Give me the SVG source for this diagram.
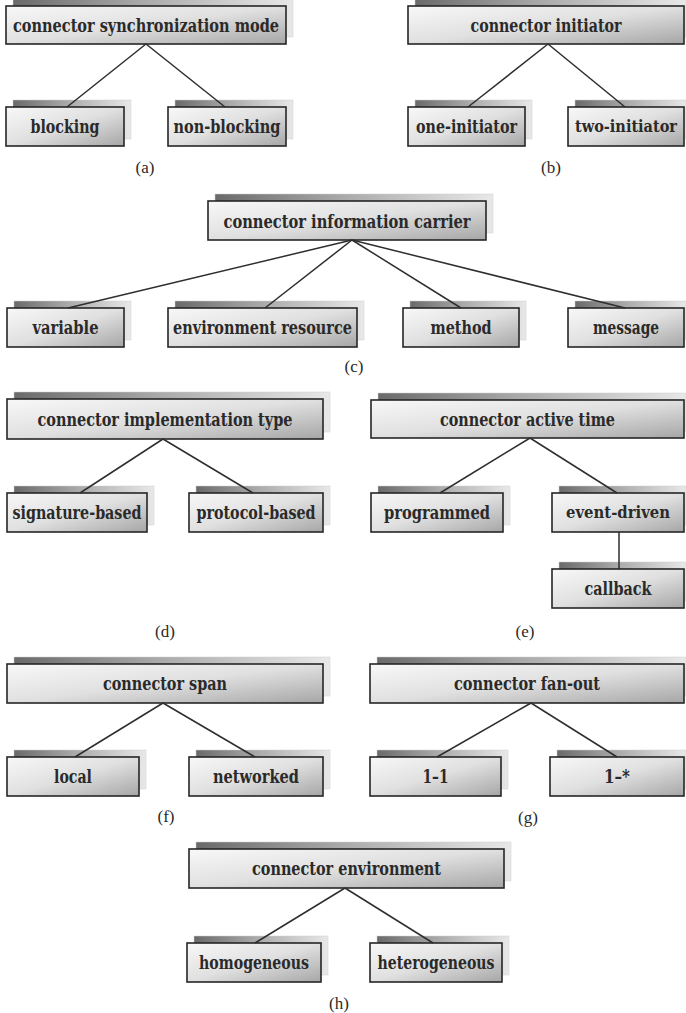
<svg xmlns="http://www.w3.org/2000/svg" width="686" height="1013" viewBox="0 0 686 1013">
<defs>
<linearGradient id="gb" x1="0" y1="0" x2="1" y2="1">
<stop offset="0" stop-color="#f8f8f8"/>
<stop offset="0.5" stop-color="#e0e0e0"/>
<stop offset="1" stop-color="#a6a6a6"/>
</linearGradient>
<linearGradient id="gs" x1="0" y1="0" x2="1" y2="0">
<stop offset="0" stop-color="#6a6a6a"/>
<stop offset="0.45" stop-color="#a8a8a8"/>
<stop offset="1" stop-color="#e8e8e8"/>
</linearGradient>
<style>
.sh{fill:url(#gs);stroke:#d0d0d0;stroke-width:0.5}
.bx{fill:url(#gb);stroke:#262626;stroke-width:1.6}
.t{font-family:"DejaVu Serif","Liberation Serif",serif;font-weight:bold;font-size:18px;fill:#2a2a2a;text-anchor:middle}
.s{font-size:16px}
.cap{font-family:"Liberation Serif","DejaVu Serif",serif;font-size:17px;fill:#2a2a2a;text-anchor:middle}
.ln{stroke:#2e2e2e;stroke-width:1.5;fill:none}
</style>
</defs>
<rect width="686" height="1013" fill="#ffffff"/>

<g id="a-root"><rect class="sh" x="13" y="-1" width="280" height="38"/><rect class="bx" x="6" y="6" width="280" height="38"/><text class="t" x="146" y="32" textLength="266" lengthAdjust="spacingAndGlyphs">connector synchronization mode</text></g>
<g id="a-blocking"><rect class="sh" x="13" y="100" width="118" height="39"/><rect class="bx" x="6" y="107" width="118" height="39"/><text class="t" x="65" y="133" textLength="69" lengthAdjust="spacingAndGlyphs">blocking</text></g>
<g id="a-nonblocking"><rect class="sh" x="175" y="100" width="118" height="39"/><rect class="bx" x="168" y="107" width="118" height="39"/><text class="t" x="227" y="133" textLength="107" lengthAdjust="spacingAndGlyphs">non-blocking</text></g>

<g id="b-root"><rect class="sh" x="415" y="-1" width="271" height="38"/><rect class="bx" x="408" y="6" width="276" height="38"/><text class="t" x="546" y="32" textLength="151" lengthAdjust="spacingAndGlyphs">connector initiator</text></g>
<g id="b-one"><rect class="sh" x="415" y="100" width="117" height="39"/><rect class="bx" x="408" y="107" width="117" height="39"/><text class="t" x="466.5" y="133" textLength="101" lengthAdjust="spacingAndGlyphs">one-initiator</text></g>
<g id="b-two"><rect class="sh" x="575" y="100" width="111" height="39"/><rect class="bx" x="568" y="107" width="116" height="39"/><text class="t s" x="626" y="132" textLength="102" lengthAdjust="spacingAndGlyphs">two-initiator</text></g>

<g id="c-root"><rect class="sh" x="215" y="194" width="278" height="39"/><rect class="bx" x="208" y="201" width="278" height="39"/><text class="t" x="347" y="228" textLength="247" lengthAdjust="spacingAndGlyphs">connector information carrier</text></g>
<g id="c-variable"><rect class="sh" x="14" y="301" width="117" height="39"/><rect class="bx" x="7" y="308" width="117" height="39"/><text class="t" x="65.5" y="334" textLength="66" lengthAdjust="spacingAndGlyphs">variable</text></g>
<g id="c-env"><rect class="sh" x="175" y="301" width="189" height="39"/><rect class="bx" x="168" y="308" width="189" height="39"/><text class="t" x="262.5" y="334" textLength="179" lengthAdjust="spacingAndGlyphs">environment resource</text></g>
<g id="c-method"><rect class="sh" x="410" y="301" width="116" height="39"/><rect class="bx" x="403" y="308" width="116" height="39"/><text class="t" x="461" y="334" textLength="61" lengthAdjust="spacingAndGlyphs">method</text></g>
<g id="c-message"><rect class="sh" x="575" y="301" width="111" height="39"/><rect class="bx" x="568" y="308" width="116" height="39"/><text class="t" x="626" y="334" textLength="66" lengthAdjust="spacingAndGlyphs">message</text></g>

<g id="d-root"><rect class="sh" x="14" y="392" width="316" height="40"/><rect class="bx" x="7" y="399" width="316" height="40"/><text class="t" x="165" y="426" textLength="255" lengthAdjust="spacingAndGlyphs">connector implementation type</text></g>
<g id="d-sig"><rect class="sh" x="14" y="486" width="140" height="39"/><rect class="bx" x="7" y="493" width="140" height="39"/><text class="t" x="77" y="519" textLength="129" lengthAdjust="spacingAndGlyphs">signature-based</text></g>
<g id="d-proto"><rect class="sh" x="196" y="486" width="134" height="39"/><rect class="bx" x="189" y="493" width="134" height="39"/><text class="t" x="256" y="519" textLength="119" lengthAdjust="spacingAndGlyphs">protocol-based</text></g>

<g id="e-root"><rect class="sh" x="378" y="393" width="308" height="38"/><rect class="bx" x="371" y="400" width="313" height="38"/><text class="t" x="527.5" y="426" textLength="175" lengthAdjust="spacingAndGlyphs">connector active time</text></g>
<g id="e-prog"><rect class="sh" x="378" y="486" width="132" height="39"/><rect class="bx" x="371" y="493" width="132" height="39"/><text class="t" x="437" y="519" textLength="106" lengthAdjust="spacingAndGlyphs">programmed</text></g>
<g id="e-event"><rect class="sh" x="559" y="486" width="127" height="39"/><rect class="bx" x="552" y="493" width="132" height="39"/><text class="t s" x="618" y="518" textLength="104" lengthAdjust="spacingAndGlyphs">event-driven</text></g>
<g id="e-callback"><rect class="sh" x="559" y="562" width="127" height="39"/><rect class="bx" x="552" y="569" width="132" height="39"/><text class="t" x="618" y="595" textLength="67" lengthAdjust="spacingAndGlyphs">callback</text></g>

<g id="f-root"><rect class="sh" x="14" y="657" width="316" height="39"/><rect class="bx" x="7" y="664" width="316" height="39"/><text class="t" x="165" y="690" textLength="124" lengthAdjust="spacingAndGlyphs">connector span</text></g>
<g id="f-local"><rect class="sh" x="14" y="750" width="132" height="39"/><rect class="bx" x="7" y="757" width="132" height="39"/><text class="t" x="73" y="783" textLength="38" lengthAdjust="spacingAndGlyphs">local</text></g>
<g id="f-net"><rect class="sh" x="196" y="750" width="134" height="39"/><rect class="bx" x="189" y="757" width="134" height="39"/><text class="t" x="256" y="783" textLength="86" lengthAdjust="spacingAndGlyphs">networked</text></g>

<g id="g-root"><rect class="sh" x="377" y="657" width="309" height="39"/><rect class="bx" x="370" y="664" width="314" height="39"/><text class="t" x="527" y="690" textLength="146" lengthAdjust="spacingAndGlyphs">connector fan-out</text></g>
<g id="g-11"><rect class="sh" x="377" y="750" width="131" height="39"/><rect class="bx" x="370" y="757" width="131" height="39"/><text class="t" x="435.5" y="783" textLength="26" lengthAdjust="spacingAndGlyphs">1–1</text></g>
<g id="g-1n"><rect class="sh" x="557" y="750" width="129" height="39"/><rect class="bx" x="550" y="757" width="134" height="39"/><text class="t" x="617" y="783" textLength="26" lengthAdjust="spacingAndGlyphs">1–*</text></g>

<g id="h-root"><rect class="sh" x="196" y="842" width="315" height="39"/><rect class="bx" x="189" y="849" width="315" height="39"/><text class="t" x="346.5" y="875" textLength="189" lengthAdjust="spacingAndGlyphs">connector environment</text></g>
<g id="h-homo"><rect class="sh" x="194" y="936" width="134" height="39"/><rect class="bx" x="187" y="943" width="134" height="39"/><text class="t" x="254" y="969" textLength="110" lengthAdjust="spacingAndGlyphs">homogeneous</text></g>
<g id="h-hetero"><rect class="sh" x="377" y="936" width="132" height="39"/><rect class="bx" x="370" y="943" width="132" height="39"/><text class="t" x="436" y="969" textLength="117" lengthAdjust="spacingAndGlyphs">heterogeneous</text></g>

<g id="connectors">
<line class="ln" x1="146" y1="44" x2="67" y2="107"/>
<line class="ln" x1="146" y1="44" x2="225" y2="107"/>
<line class="ln" x1="548" y1="44" x2="468" y2="107"/>
<line class="ln" x1="548" y1="44" x2="625" y2="107"/>
<line class="ln" x1="352" y1="240" x2="68" y2="308"/>
<line class="ln" x1="352" y1="240" x2="265" y2="308"/>
<line class="ln" x1="352" y1="240" x2="461" y2="308"/>
<line class="ln" x1="352" y1="240" x2="625" y2="308"/>
<line class="ln" x1="163" y1="439" x2="80" y2="493"/>
<line class="ln" x1="163" y1="439" x2="253" y2="493"/>
<line class="ln" x1="530" y1="438" x2="440" y2="493"/>
<line class="ln" x1="530" y1="438" x2="617" y2="493"/>
<line class="ln" x1="619" y1="532" x2="619" y2="569"/>
<line class="ln" x1="163" y1="703" x2="75" y2="757"/>
<line class="ln" x1="163" y1="703" x2="255" y2="757"/>
<line class="ln" x1="531" y1="703" x2="437" y2="757"/>
<line class="ln" x1="531" y1="703" x2="617" y2="757"/>
<line class="ln" x1="345" y1="888" x2="255" y2="943"/>
<line class="ln" x1="345" y1="888" x2="433" y2="943"/>
</g>

<g id="captions">
<text class="cap" x="145" y="173">(a)</text>
<text class="cap" x="551" y="173">(b)</text>
<text class="cap" x="354" y="372">(c)</text>
<text class="cap" x="165" y="637">(d)</text>
<text class="cap" x="525" y="637">(e)</text>
<text class="cap" x="166" y="822">(f)</text>
<text class="cap" x="528" y="823">(g)</text>
<text class="cap" x="339" y="1009">(h)</text>
</g>
</svg>
